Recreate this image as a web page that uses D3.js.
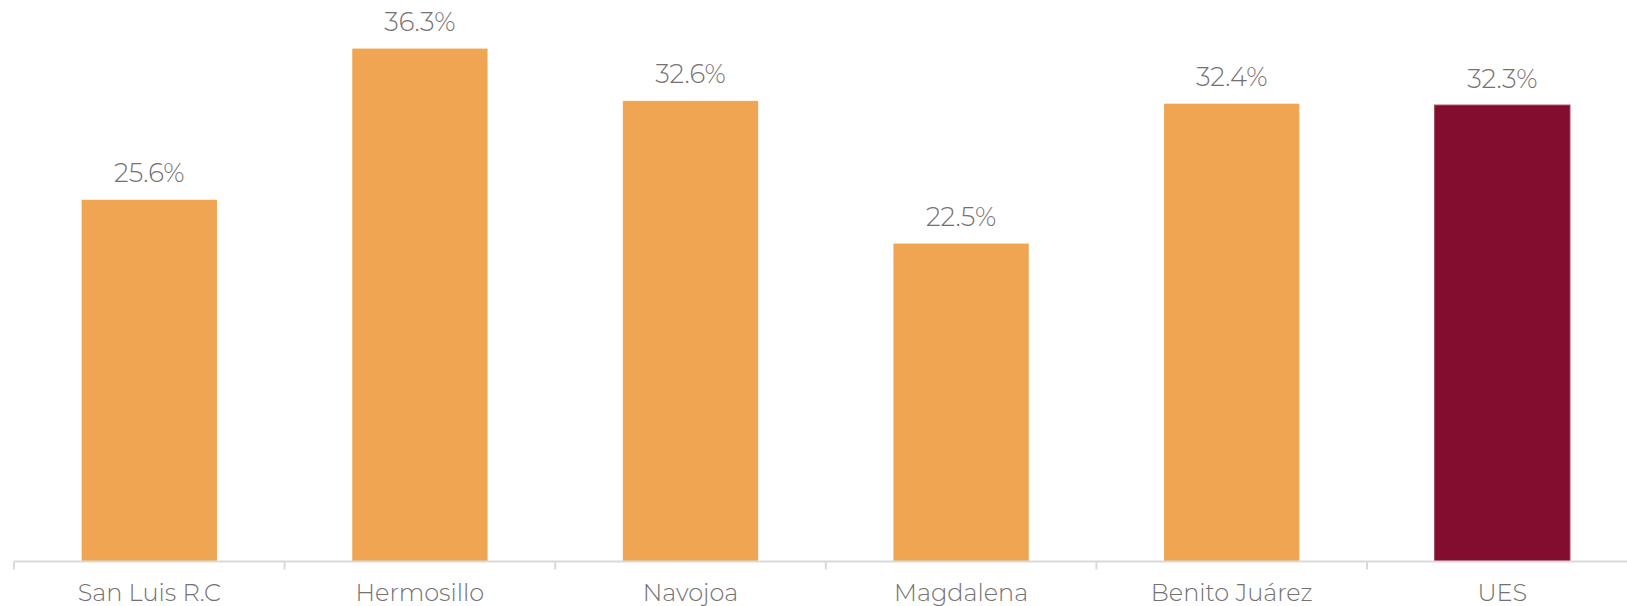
<!DOCTYPE html>
<html>
<head>
<meta charset="utf-8">
<script src="https://cdn.jsdelivr.net/npm/d3@7"></script>
<style>
  body { margin: 0; background: #fff; }
  svg { display: block; font-family: "Montserrat", "Inter", "Noto Sans", sans-serif; }
</style>
</head>
<body>
<svg id="drawing_region"></svg>
<script>
const categories = ['San Luis R.C', 'Hermosillo', 'Navojoa', 'Magdalena', 'Benito Juárez', 'UES']
const values = [25.6, 36.3, 32.6, 22.5, 32.4, 32.3]
const barColors = ['#F0A552', '#F0A552', '#F0A552', '#F0A552', '#F0A552', '#820D2F']

const width = 1627, height = 606
const axisY = 561.5
const left = 14
const step = 270.6

const svg = d3.select('#drawing_region')
    .attr('width', width)
    .attr('height', height)

const xscale = d3.scaleBand()
    .domain(categories)
    .range([left, left + step * categories.length])
    .paddingInner(0.5)
    .paddingOuter(0.25)

const yscale = d3.scaleLinear()
    .domain([0, 40])
    .range([axisY, axisY - 40 * 14.13])

// bars
svg.selectAll('rect.bar').data(categories).enter()
    .append('rect')
    .attr('class', 'bar')
    .attr('x', d => xscale(d))
    .attr('y', (d, i) => yscale(values[i]))
    .attr('width', xscale.bandwidth())
    .attr('height', (d, i) => axisY - yscale(values[i]))
    .attr('fill', (d, i) => barColors[i])
    .attr('stroke', (d, i) => i === 5 ? '#9E3A52' : 'none')
    .attr('stroke-width', 1)

// value labels
svg.selectAll('text.val').data(categories).enter()
    .append('text')
    .attr('class', 'val')
    .attr('x', d => xscale(d) + xscale.bandwidth() / 2)
    .attr('y', (d, i) => yscale(values[i]) - 17.5)
    .attr('text-anchor', 'middle')
    .attr('font-size', 26)
    .attr('font-weight', 300)
    .attr('fill', '#767171')
    .text((d, i) => values[i].toFixed(1) + '%')

// x axis
const xaxis = d3.axisBottom(xscale).tickSize(0).tickPadding(22)
const xaxis_group = svg.append('g')
    .attr('transform', `translate(0,${axisY})`)
    .call(xaxis)
    .attr('font-family', null)
    .attr('font-size', 24)
    .attr('font-weight', 300)
xaxis_group.select('.domain').remove()
xaxis_group.selectAll('text')
    .attr('fill', '#767171')

xaxis_group.append('line')
    .attr('x1', left).attr('x2', width)
    .attr('y1', 0).attr('y2', 0)
    .attr('stroke', '#D9D9D9').attr('stroke-width', 2)

// category boundary ticks
xaxis_group.selectAll('line.sep').data(categories).enter()
    .append('line')
    .attr('class', 'sep')
    .attr('x1', d => xscale(d) - xscale.step() * 0.25)
    .attr('x2', d => xscale(d) - xscale.step() * 0.25)
    .attr('y1', 0).attr('y2', 8)
    .attr('stroke', '#D9D9D9').attr('stroke-width', 2)
</script>
</body>
</html>
